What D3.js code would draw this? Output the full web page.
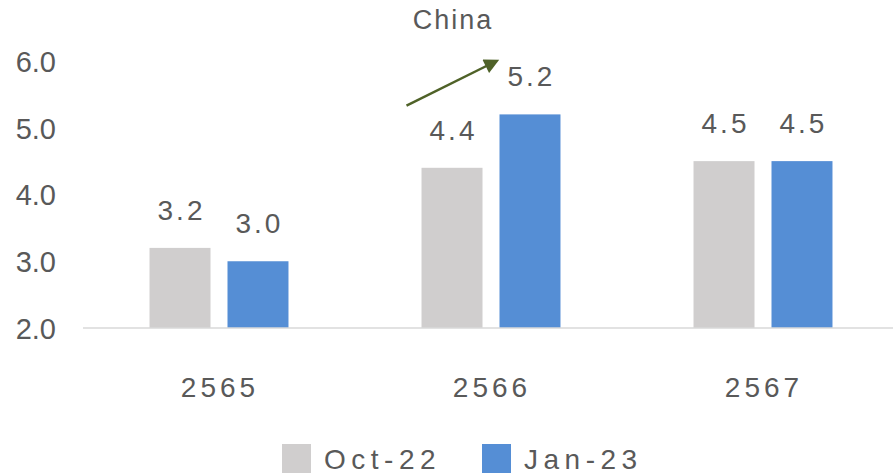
<!DOCTYPE html>
<html>
<head>
<meta charset="utf-8">
<script src="https://cdn.jsdelivr.net/npm/d3@7"></script>
<style>
  html, body { margin: 0; padding: 0; background: #fff; }
  svg { display: block; font-family: "Liberation Sans", Arial, sans-serif; }
</style>
</head>
<body>
<svg id="chart" width="893" height="475"></svg>
<script>
// Chart data
const title = "China";
const categories = ["2565", "2566", "2567"];
const seriesNames = ["Oct-22", "Jan-23"];
const oct22 = [3.2, 4.4, 4.5];
const jan23 = [3.0, 5.2, 4.5];
const yTicks = [2, 3, 4, 5, 6];
const seriesColors = ["#D0CECE", "#558ED5"];

const seriesValues = [oct22, jan23];
const svg = d3.select("#chart");
const textColor = "#595959";

const x0 = d3.scaleBand().domain(categories).range([83, 899]).paddingInner(0).paddingOuter(0);
const x1 = d3.scaleBand().domain(seriesNames).range([0, x0.bandwidth()])
  .paddingInner(0.218).paddingOuter(0.853);
const y = d3.scaleLinear().domain([2, 6]).range([328, 61]);

// Title
svg.append("text")
  .attr("x", x0("2566") + x0.bandwidth() / 2 - 38)
  .attr("y", 29)
  .attr("text-anchor", "middle")
  .attr("font-size", 27)
  .attr("letter-spacing", 2)
  .attr("fill", textColor)
  .text(title);

// Y axis labels (no axis line, no gridlines)
const yAxis = d3.axisLeft(y).tickValues(yTicks).tickFormat(d3.format(".1f")).tickSize(0).tickPadding(0);
const yG = svg.append("g").attr("transform", "translate(56,0)").call(yAxis);
yG.select(".domain").remove();
yG.selectAll("text")
  .attr("font-size", 29)
  .attr("font-family", "'Liberation Sans', Arial, sans-serif")
  .attr("fill", textColor)
  .attr("dy", "0.36em");

// Bars
const groups = svg.append("g").selectAll("g")
  .data(categories)
  .join("g")
  .attr("transform", c => `translate(${x0(c)},0)`);

groups.selectAll("rect")
  .data((c, i) => seriesNames.map((s, k) => ({ s, k, v: seriesValues[k][i] })))
  .join("rect")
  .attr("x", d => x1(d.s))
  .attr("width", x1.bandwidth())
  .attr("y", d => y(d.v))
  .attr("height", d => y(2) - y(d.v))
  .attr("fill", d => seriesColors[d.k]);

// Value labels
groups.selectAll("text.val")
  .data((c, i) => seriesNames.map((s, k) => ({ s, k, v: seriesValues[k][i] })))
  .join("text")
  .attr("class", "val")
  .attr("x", d => x1(d.s) + x1.bandwidth() / 2 + 1.5)
  .attr("y", d => y(d.v) - 28)
  .attr("text-anchor", "middle")
  .attr("font-size", 28)
  .attr("letter-spacing", 3)
  .attr("fill", textColor)
  .text(d => d3.format(".1f")(d.v));

// Baseline
svg.append("line")
  .attr("x1", 83).attr("x2", 893)
  .attr("y1", y(2)).attr("y2", y(2))
  .attr("stroke", "#D9D9D9")
  .attr("stroke-width", 1.5);

// Category labels
const xAxis = d3.axisBottom(x0).tickSize(0).tickPadding(0);
const xG = svg.append("g").attr("transform", "translate(0,397)").call(xAxis);
xG.select(".domain").remove();
xG.selectAll("text")
  .attr("font-size", 28)
  .attr("font-family", "'Liberation Sans', Arial, sans-serif")
  .attr("letter-spacing", 4)
  .attr("dy", 0)
  .attr("dx", 1)
  .attr("fill", textColor);

// Trend arrow over the 2566 group
const defs = svg.append("defs");
defs.append("marker")
  .attr("id", "arrowHead")
  .attr("viewBox", "0 0 10 10")
  .attr("refX", 8).attr("refY", 5)
  .attr("markerWidth", 7).attr("markerHeight", 6)
  .attr("markerUnits", "strokeWidth")
  .attr("orient", "auto")
  .append("path")
  .attr("d", "M0,0 L10,5 L0,10 Z")
  .attr("fill", "#4F6228");

const gx = x0("2566");
svg.append("line")
  .attr("x1", gx + x1("Oct-22") - 15)
  .attr("y1", y(5.33))
  .attr("x2", gx + x1("Jan-23") - 3)
  .attr("y2", y(6.0))
  .attr("stroke", "#4F6228")
  .attr("stroke-width", 2.5)
  .attr("marker-end", "url(#arrowHead)");

// Legend
const legend = svg.append("g").attr("transform", "translate(282,444)");
const legendOffsets = [0, 200];
seriesNames.forEach((s, k) => {
  const g = legend.append("g").attr("transform", `translate(${legendOffsets[k]},0)`);
  g.append("rect").attr("width", 29).attr("height", 29).attr("fill", seriesColors[k]);
  g.append("text")
    .attr("x", 42).attr("y", 25)
    .attr("font-size", 28)
    .attr("letter-spacing", 5.5)
    .attr("fill", textColor)
    .text(s);
});
</script>
</body>
</html>
